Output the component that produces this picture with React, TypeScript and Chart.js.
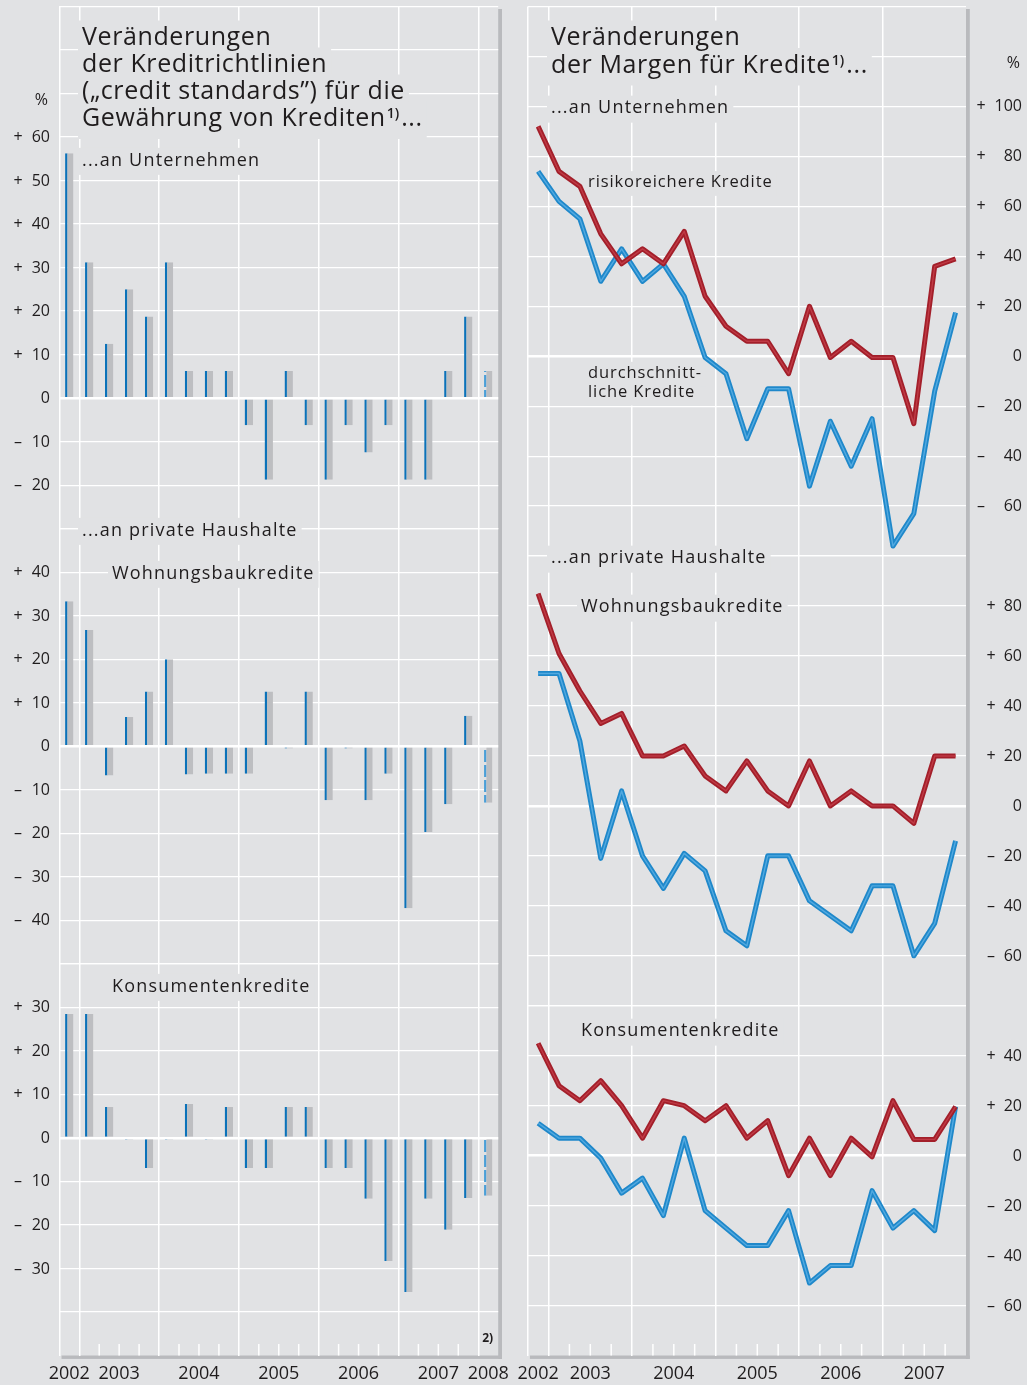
import React, { useEffect, useRef } from "react";
import { Chart, registerables } from "chart.js";

Chart.register(...registerables);

// ---------------- data ----------------
const standardsQuarters = [
  "2002Q4",
  "2003Q1", "2003Q2", "2003Q3", "2003Q4",
  "2004Q1", "2004Q2", "2004Q3", "2004Q4",
  "2005Q1", "2005Q2", "2005Q3", "2005Q4",
  "2006Q1", "2006Q2", "2006Q3", "2006Q4",
  "2007Q1", "2007Q2", "2007Q3", "2007Q4",
  "2008Q1",
];
const marginQuarters = [
  "2002Q4",
  "2003Q1", "2003Q2", "2003Q3", "2003Q4",
  "2004Q1", "2004Q2", "2004Q3", "2004Q4",
  "2005Q1", "2005Q2", "2005Q3", "2005Q4",
  "2006Q1", "2006Q2", "2006Q3", "2006Q4",
  "2007Q1", "2007Q2", "2007Q3", "2007Q4",
];
const standardsYears = ["2002", "2003", "2004", "2005", "2006", "2007", "2008"];
const marginYears = ["2002", "2003", "2004", "2005", "2006", "2007"];
const expectationQuarter = "2008Q1";

// credit standards, net percentages
const standardsEnterprises = [56.25, 31.25, 12.5, 25, 18.75, 31.25, 6.25, 6.25, 6.25, -6.25, -18.75, 6.25, -6.25, -18.75, -6.25, -12.5, -6.25, -18.75, -18.75, 6.25, 18.75, 6.25];
const standardsHousing = [33.3, 26.7, -6.7, 6.7, 12.6, 20, -6.5, -6.3, -6.3, -6.3, 12.6, -0.5, 12.6, -12.4, -0.5, -12.4, -6.3, -37.2, -19.7, -13.3, 7.0, -13];
const standardsConsumer = [28.5, 28.5, 7.1, -0.4, -6.9, -0.4, 7.8, -0.4, 7.1, -6.9, -6.9, 7.1, 7.1, -6.9, -6.9, -14, -28.3, -35.4, -14, -21.1, -13.8, -13.3];

// margins, net percentages
const marginRiskyEnterprises = [92, 74, 68, 49, 37, 43, 37, 50, 24, 12, 6, 6, -7, 20, -0.5, 6, -0.5, -0.5, -27, 36, 39];
const marginAvgEnterprises = [74, 62, 55, 30, 43, 30, 37, 24, -0.5, -7, -33, -13, -13, -52, -26, -44, -25, -76, -63, -14, 17.5];
const marginRiskyHousing = [85, 61, 46, 33, 37, 20, 20, 24, 12, 6, 18, 6, 0, 18, 0, 6, 0, 0, -7, 20, 20];
const marginAvgHousing = [53, 53, 26, -21, 6, -20, -33, -19, -26, -50, -56, -20, -20, -38, -44, -50, -32, -32, -60, -47, -14];
const marginRiskyConsumer = [45, 28, 22, 30, 20, 7, 22, 20, 14, 20, 7, 14, -8, 7, -8, 7, -0.5, 22, 6.5, 6.5, 19.6];
const marginAvgConsumer = [13, 7, 7, -1, -15, -9, -24, 7, -22, -29, -36, -36, -22, -51, -44, -44, -14, -29, -22, -30, 19.6];

// tick labels
const standardsTicksTop = [60, 50, 40, 30, 20, 10, 0, -10, -20];
const standardsTicksMid = [40, 30, 20, 10, 0, -10, -20, -30, -40];
const standardsTicksBot = [30, 20, 10, 0, -10, -20, -30];
const marginTicksTop = [100, 80, 60, 40, 20, 0, -20, -40, -60];
const marginTicksMid = [80, 60, 40, 20, 0, -20, -40, -60];
const marginTicksBot = [40, 20, 0, -20, -40, -60];

// ---------------- styles ----------------
const W = 1027;
const H = 1385;
const BG = "#e1e2e4";
const GRID = "#ffffff";
const SHADOW = "#b9babd";
const BAR_GRAY = "#bdbec1";
const BAR_BLUE = "#0b72b9";
const BAR_BLUE_EXP = "#4a9fd8";
const RED = "#a31f2a";
const RED_IN = "#bf3a45";
const BLUE = "#1f88ca";
const BLUE_IN = "#52a9e0";
const TEXT = "#1f1c1d";
const FONT = "'Open Sans', 'Noto Sans', sans-serif";
const ZERO_W = 2.5;
const GRID_W = 1.3;

const LEFT_AREA = { left: 59.3, top: 6.5, right: 498.2, bottom: 1355.5 };
const RIGHT_AREA = { left: 527.7, top: 6.5, right: 966, bottom: 1355.5 };

const TEXT_STYLES: any = {
  title: { size: 25, spacing: 0.6 },
  sub: { size: 18, spacing: 1.2 },
  note: { size: 16.5, spacing: 0.9 },
};

const standardsSections = [
  { id: "yTop", min: -30, max: 90, step: 10, ticks: standardsTicksTop, signX: 18 },
  { id: "yMid", min: -50, max: 50, step: 10, ticks: standardsTicksMid, signX: 18 },
  { id: "yBot", min: -50, max: 40, step: 10, ticks: standardsTicksBot, signX: 18 },
];
const marginSections = [
  { id: "yTop", min: -80, max: 140, step: 20, ticks: marginTicksTop, signX: 981 },
  { id: "yMid", min: -80, max: 100, step: 20, ticks: marginTicksMid, signX: 991 },
  { id: "yBot", min: -80, max: 60, step: 20, ticks: marginTicksBot, signX: 991 },
];

const standardsLabels = [
  { text: "Veränderungen", x: 82, y: 45, kind: "title" },
  { text: "der Kreditrichtlinien", x: 82, y: 72, kind: "title" },
  { text: "(„credit standards”) für die", x: 82, y: 99, kind: "title" },
  { text: "Gewährung von Krediten", x: 82, y: 126, kind: "title", sup: "1)", tail: "..." },
  { text: "...an Unternehmen", x: 82, y: 165.5, kind: "sub" },
  { text: "...an private Haushalte", x: 82, y: 535.5, kind: "sub" },
  { text: "Wohnungsbaukredite", x: 112, y: 578.5, kind: "sub" },
  { text: "Konsumentenkredite", x: 112, y: 991.5, kind: "sub" },
];
const marginLabels = [
  { text: "Veränderungen", x: 551, y: 45, kind: "title" },
  { text: "der Margen für Kredite", x: 551, y: 72.5, kind: "title", sup: "1)", tail: "..." },
  { text: "...an Unternehmen", x: 551, y: 113.3, kind: "sub" },
  { text: "risikoreichere Kredite", x: 588, y: 187.3, kind: "note" },
  { text: "durchschnitt-", x: 588, y: 378, kind: "note" },
  { text: "liche Kredite", x: 588, y: 397, kind: "note" },
  { text: "...an private Haushalte", x: 551, y: 563.3, kind: "sub" },
  { text: "Wohnungsbaukredite", x: 581, y: 612.3, kind: "sub" },
  { text: "Konsumentenkredite", x: 581, y: 1036.3, kind: "sub" },
];

// ---------------- helpers ----------------
function setSpacing(ctx: any, px: number) {
  if ("letterSpacing" in ctx) ctx.letterSpacing = px + "px";
}

function measureLabel(ctx: any, l: any) {
  const st = TEXT_STYLES[l.kind];
  ctx.font = `400 ${st.size}px ${FONT}`;
  setSpacing(ctx, st.spacing);
  const mainW = ctx.measureText(l.text).width;
  let supW = 0;
  let tailW = 0;
  if (l.sup) {
    ctx.font = `600 14px ${FONT}`;
    setSpacing(ctx, 0);
    supW = ctx.measureText(l.sup).width + 3;
  }
  if (l.tail) {
    ctx.font = `400 ${st.size}px ${FONT}`;
    setSpacing(ctx, st.spacing);
    tailW = ctx.measureText(l.tail).width;
  }
  return { st, mainW, supW, tailW };
}

function drawLabels(ctx: any, labels: any[]) {
  ctx.save();
  const ms = labels.map((l) => measureLabel(ctx, l));
  ctx.fillStyle = BG;
  labels.forEach((l, i) => {
    const m = ms[i];
    const total = m.mainW + m.supW + m.tailW;
    ctx.fillRect(l.x - 4, l.y - m.st.size * 0.98, total + 8, m.st.size * 1.5);
  });
  ctx.fillStyle = TEXT;
  ctx.textAlign = "left";
  ctx.textBaseline = "alphabetic";
  labels.forEach((l, i) => {
    const m = ms[i];
    ctx.font = `400 ${m.st.size}px ${FONT}`;
    setSpacing(ctx, m.st.spacing);
    ctx.fillText(l.text, l.x, l.y);
    if (l.sup) {
      ctx.font = `600 14px ${FONT}`;
      setSpacing(ctx, 0);
      ctx.fillText(l.sup, l.x + m.mainW + 1, l.y - 8);
    }
    if (l.tail) {
      ctx.font = `400 ${m.st.size}px ${FONT}`;
      setSpacing(ctx, m.st.spacing);
      ctx.fillText(l.tail, l.x + m.mainW + m.supW, l.y);
    }
  });
  setSpacing(ctx, 0);
  ctx.restore();
}

function panelPlugin(cfg: any) {
  return {
    id: "panelDecor" + cfg.key,
    beforeDraw(chart: any) {
      const { ctx, chartArea: a } = chart;
      ctx.save();
      ctx.fillStyle = SHADOW;
      ctx.fillRect(a.right, a.top + 2.5, 3.8, a.bottom - a.top + 1);
      ctx.fillRect(a.left + 2.2, a.bottom, a.right - a.left + 1.6, 3.4);
      ctx.restore();
    },
    beforeDatasetsDraw(chart: any) {
      const { ctx, chartArea: a } = chart;
      const xs = chart.scales.x;
      const quarters: string[] = cfg.quarters;
      ctx.save();
      ctx.strokeStyle = GRID;
      ctx.lineWidth = 1.5;
      for (let i = 1; i < quarters.length; i++) {
        if (quarters[i].endsWith("Q1")) continue;
        const px = (xs.getPixelForValue(i - 1) + xs.getPixelForValue(i)) / 2;
        ctx.beginPath();
        ctx.moveTo(px, a.bottom - 11.5);
        ctx.lineTo(px, a.bottom);
        ctx.stroke();
      }
      ctx.restore();
      drawLabels(ctx, cfg.labels);
    },
    afterDraw(chart: any) {
      const { ctx, chartArea: a } = chart;
      const xs = chart.scales.x;
      ctx.save();
      ctx.fillStyle = TEXT;
      // y tick labels
      ctx.font = `400 16px ${FONT}`;
      ctx.textBaseline = "middle";
      cfg.sections.forEach((s: any) => {
        const sc = chart.scales[s.id];
        s.ticks.forEach((v: number) => {
          const y = sc.getPixelForValue(v) + 0.5;
          if (v !== 0) {
            ctx.textAlign = "center";
            ctx.fillText(v > 0 ? "+" : "–", s.signX, y);
          }
          ctx.textAlign = "right";
          ctx.fillText(String(Math.abs(v)), cfg.numX, y);
        });
      });
      // percent sign
      ctx.textAlign = "right";
      ctx.fillText("%", cfg.pctX, cfg.pctY);
      // year labels
      ctx.font = `400 18px ${FONT}`;
      ctx.textAlign = "center";
      cfg.years.forEach((yr: string) => {
        const idx = cfg.quarters
          .map((q: string, i: number) => (q.startsWith(yr) ? i : -1))
          .filter((i: number) => i >= 0);
        const cx = (xs.getPixelForValue(idx[0]) + xs.getPixelForValue(idx[idx.length - 1])) / 2;
        ctx.fillText(yr, cx, a.bottom + 18.5);
      });
      if (cfg.footnote) {
        ctx.font = `700 12px ${FONT}`;
        ctx.textAlign = "center";
        ctx.fillText(cfg.footnote, a.right - 10.5, a.bottom - 17);
      }
      ctx.restore();
    },
  };
}

function buildScales(sections: any[], quarters: string[]) {
  const scales: any = {
    x: {
      type: "category",
      offset: true,
      ticks: { display: false },
      border: { display: false },
      grid: {
        offset: true,
        drawTicks: false,
        lineWidth: 1.5,
        color: (c: any) =>
          c.index !== undefined && c.tick && (c.index === 0 || quarters[c.index].endsWith("Q1"))
            ? GRID
            : "rgba(0,0,0,0)",
      },
    },
  };
  sections.forEach((s, i) => {
    const isLast = i === sections.length - 1;
    scales[s.id] = {
      type: "linear",
      position: "left",
      stack: "panel",
      stackWeight: (s.max - s.min) / s.step,
      weight: sections.length - i,
      min: s.min,
      max: s.max,
      ticks: { display: false, stepSize: s.step, maxTicksLimit: 100 },
      border: { display: false },
      grid: {
        drawTicks: false,
        color: (c: any) => (isLast && c.tick && c.tick.value === s.min ? "rgba(0,0,0,0)" : GRID),
        lineWidth: (c: any) => (c.tick && c.tick.value === 0 ? ZERO_W : GRID_W),
      },
    };
  });
  return scales;
}

function paddingFor(area: any) {
  return { left: area.left, top: area.top, right: W - area.right, bottom: H - area.bottom };
}

function makeDashPattern(ctx: CanvasRenderingContext2D) {
  const c = document.createElement("canvas");
  c.width = 4;
  c.height = 15;
  const g = c.getContext("2d")!;
  g.fillStyle = BAR_BLUE_EXP;
  g.fillRect(0, 0, 4, 12);
  return ctx.createPattern(c, "repeat");
}

function barDataset(data: number[], yAxisID: string, pattern: any) {
  return {
    type: "bar",
    data,
    yAxisID,
    backgroundColor: BAR_GRAY,
    borderColor: (c: any) => (standardsQuarters[c.dataIndex] === expectationQuarter ? pattern : BAR_BLUE),
    borderWidth: { left: 2.4, top: 0, right: 0, bottom: 0 },
    borderSkipped: false,
    grouped: false,
    barPercentage: 0.42,
    categoryPercentage: 1,
  };
}

function lineDatasets(data: number[], yAxisID: string, color: string, inner: string, order: number) {
  const base = { type: "line", data, yAxisID, pointRadius: 0, tension: 0, fill: false, borderJoinStyle: "round", borderCapStyle: "butt" };
  return [
    { ...base, borderColor: color, borderWidth: 5, order: order + 1 },
    { ...base, borderColor: inner, borderWidth: 1.4, order },
  ];
}

export default function App() {
  const leftRef = useRef<HTMLCanvasElement>(null);
  const rightRef = useRef<HTMLCanvasElement>(null);

  useEffect(() => {
    const lc = leftRef.current!;
    const rc = rightRef.current!;
    const pattern = makeDashPattern(lc.getContext("2d")!);

    const left = new Chart(lc, {
      type: "bar",
      data: {
        labels: standardsQuarters,
        datasets: [
          barDataset(standardsEnterprises, "yTop", pattern),
          barDataset(standardsHousing, "yMid", pattern),
          barDataset(standardsConsumer, "yBot", pattern),
        ] as any,
      },
      options: {
        responsive: false,
        animation: false,
        devicePixelRatio: 1,
        events: [],
        layout: { padding: paddingFor(LEFT_AREA) },
        plugins: { legend: { display: false }, tooltip: { enabled: false } },
        scales: buildScales(standardsSections, standardsQuarters),
      } as any,
      plugins: [
        panelPlugin({
          key: "L",
          quarters: standardsQuarters,
          years: standardsYears,
          sections: standardsSections,
          labels: standardsLabels,
          numX: 50,
          pctX: 48,
          pctY: 100,
          footnote: "2)",
        }),
      ],
    });

    const right = new Chart(rc, {
      type: "line",
      data: {
        labels: marginQuarters,
        datasets: [
          ...lineDatasets(marginRiskyEnterprises, "yTop", RED, RED_IN, 1),
          ...lineDatasets(marginAvgEnterprises, "yTop", BLUE, BLUE_IN, 3),
          ...lineDatasets(marginRiskyHousing, "yMid", RED, RED_IN, 1),
          ...lineDatasets(marginAvgHousing, "yMid", BLUE, BLUE_IN, 3),
          ...lineDatasets(marginRiskyConsumer, "yBot", RED, RED_IN, 1),
          ...lineDatasets(marginAvgConsumer, "yBot", BLUE, BLUE_IN, 3),
        ] as any,
      },
      options: {
        responsive: false,
        animation: false,
        devicePixelRatio: 1,
        events: [],
        layout: { padding: paddingFor(RIGHT_AREA) },
        plugins: { legend: { display: false }, tooltip: { enabled: false } },
        scales: buildScales(marginSections, marginQuarters),
      } as any,
      plugins: [
        panelPlugin({
          key: "R",
          quarters: marginQuarters,
          years: marginYears,
          sections: marginSections,
          labels: marginLabels,
          numX: 1022,
          pctX: 1020,
          pctY: 63,
        }),
      ],
    });

    return () => {
      left.destroy();
      right.destroy();
    };
  }, []);

  return (
    <div
      style={{
        position: "absolute",
        left: 0,
        top: 0,
        width: W,
        height: H,
        background: BG,
        overflow: "hidden",
      }}
    >
      <canvas ref={leftRef} width={W} height={H} style={{ position: "absolute", left: 0, top: 0 }} />
      <canvas ref={rightRef} width={W} height={H} style={{ position: "absolute", left: 0, top: 0 }} />
    </div>
  );
}
